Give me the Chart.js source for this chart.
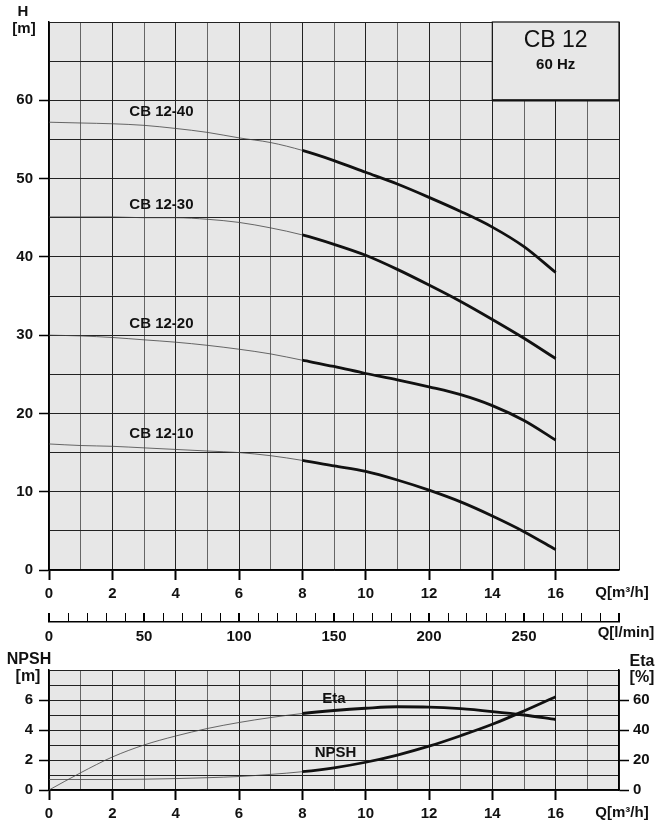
<!DOCTYPE html>
<html>
<head>
<meta charset="utf-8">
<script src="https://cdn.jsdelivr.net/npm/chart.js@4.4.1/dist/chart.umd.min.js"></script>
<style>
  body { margin: 0; background: #fff; }
  #wrap { position: relative; width: 663px; height: 831px; }
  canvas { position: absolute; left: 0; }
</style>
</head>
<body>
<div id="wrap">
  <canvas id="chartH" width="663" height="600" style="top:0"></canvas>
  <canvas id="chartL" width="663" height="45" style="top:600px"></canvas>
  <canvas id="chartN" width="663" height="186" style="top:645px"></canvas>
</div>
<script>
// flow points, m3/h
const qPoints = [0, 1, 2, 3, 4, 5, 6, 7, 8, 9, 10, 11, 12, 13, 14, 15, 16];
// head curves, m
const h40 = [57.2, 57.1, 57.0, 56.8, 56.4, 55.9, 55.2, 54.6, 53.6, 52.3, 50.8, 49.3, 47.6, 45.8, 43.8, 41.3, 38.0];
const h30 = [45.1, 45.1, 45.1, 45.0, 45.0, 44.8, 44.4, 43.7, 42.8, 41.6, 40.2, 38.4, 36.4, 34.3, 32.0, 29.6, 27.0];
const h20 = [30.0, 29.9, 29.7, 29.4, 29.1, 28.7, 28.2, 27.6, 26.8, 26.0, 25.1, 24.3, 23.4, 22.4, 21.0, 19.1, 16.6];
const h10 = [16.1, 15.9, 15.8, 15.6, 15.4, 15.2, 15.0, 14.6, 14.0, 13.3, 12.6, 11.5, 10.2, 8.7, 6.9, 4.9, 2.6];
const curveNames = ['CB 12-40', 'CB 12-30', 'CB 12-20', 'CB 12-10'];
// NPSH in m, Eta in %
const npsh = [0.7, 0.7, 0.7, 0.72, 0.76, 0.82, 0.9, 1.04, 1.22, 1.48, 1.85, 2.33, 2.92, 3.62, 4.38, 5.27, 6.22];
const eta = [0, 11.5, 22, 30, 36, 41, 45, 48.3, 51, 53, 54.5, 55.5, 55.3, 54.2, 52.3, 50, 47];
// tick labels
const qTicks = [0, 2, 4, 6, 8, 10, 12, 14, 16];
const hTicks = [0, 10, 20, 30, 40, 50, 60];
const lminTicks = [0, 50, 100, 150, 200, 250];
const npshTicks = [0, 2, 4, 6];
const etaTicks = [0, 20, 40, 60];

const FONT = '"Liberation Sans", Arial, sans-serif';
const PLOT_BG = '#e7e7e7';
const THICK_FROM = 8;

function pts(ys) {
    return qPoints.map((q, i) => ({ x: q, y: ys[i] }));
}

function curve(ys, axis) {
    return {
        data: pts(ys),
        yAxisID: axis || 'y',
        borderColor: '#111',
        borderWidth: 2.8,
        pointRadius: 0,
        cubicInterpolationMode: 'monotone',
        segment: {
            borderWidth: ctx => ctx.p0.parsed.x >= THICK_FROM ? 2.8 : 0.8,
            borderColor: ctx => ctx.p0.parsed.x >= THICK_FROM ? '#111' : '#444'
        }
    };
}

const tickFont = { family: FONT, size: 15, weight: 'bold' };

const plotBg = {
    id: 'plotBg',
    beforeDraw(chart) {
        const a = chart.chartArea;
        const ctx = chart.ctx;
        ctx.save();
        ctx.fillStyle = PLOT_BG;
        ctx.fillRect(a.left, a.top, a.right - a.left, a.bottom - a.top);
        ctx.restore();
    }
};

function text(ctx, str, x, y, size, weight) {
    ctx.font = (weight || 'bold') + ' ' + size + 'px ' + FONT;
    ctx.fillStyle = '#111';
    ctx.textAlign = 'center';
    ctx.textBaseline = 'middle';
    ctx.fillText(str, x, y);
}

function qAxis(height) {
    return {
        type: 'linear', min: 0, max: 18,
        afterFit: s => { s.height = height; },
        ticks: {
            stepSize: 1, autoSkip: false, maxRotation: 0, font: tickFont, color: '#111', padding: 5,
            callback: v => qTicks.includes(v) ? String(v) : ''
        },
        grid: {
            color: c => c.tick.value % 2 === 0 ? '#222' : '#666',
            lineWidth: 1,
            tickLength: 10,
            tickWidth: 2,
            tickColor: c => qTicks.includes(c.tick.value) ? '#000' : 'rgba(0,0,0,0)'
        },
        border: { display: true, color: '#000', width: 1.5 }
    };
}

// ---------- head chart ----------
const headLabels = {
    id: 'headLabels',
    beforeDatasetsDraw(chart) {
        const { ctx, scales: { x, y } } = chart;
        const x0 = x.getPixelForValue(14), x1 = x.getPixelForValue(18);
        const y0 = y.getPixelForValue(70), y1 = y.getPixelForValue(60);
        ctx.save();
        ctx.fillStyle = PLOT_BG;
        ctx.fillRect(x0, y0, x1 - x0, y1 - y0);
        ctx.strokeStyle = '#111';
        ctx.lineWidth = 1.2;
        ctx.strokeRect(x0, y0, x1 - x0, y1 - y0);
        ctx.lineWidth = 2.2;
        ctx.beginPath();
        ctx.moveTo(x0, y1);
        ctx.lineTo(x1, y1);
        ctx.stroke();
        text(ctx, 'CB 12', (x0 + x1) / 2, y0 + 19, 23, 'normal');
        text(ctx, '60 Hz', (x0 + x1) / 2, y0 + 43, 15);
        ctx.restore();
    },
    afterDraw(chart) {
        const { ctx, scales: { x, y } } = chart;
        const labelH = [58.5, 46.6, 31.5, 17.4];
        ctx.save();
        curveNames.forEach((n, i) => text(ctx, n, x.getPixelForValue(3.55), y.getPixelForValue(labelH[i]), 15));
        text(ctx, 'H', 23, 12, 15);
        text(ctx, '[m]', 24, 29, 15);
        text(ctx, 'Q[m³/h]', 622, 593, 15);
        ctx.restore();
    }
};

new Chart(document.getElementById('chartH'), {
    type: 'line',
    data: { datasets: [curve(h40), curve(h30), curve(h20), curve(h10)] },
    options: {
        responsive: false,
        animation: false,
        layout: { padding: { top: 22, right: 44, left: 0, bottom: 0 } },
        plugins: { legend: { display: false }, tooltip: { enabled: false } },
        scales: {
            x: qAxis(30),
            y: {
                type: 'linear', min: 0, max: 70,
                afterFit: s => { s.width = 49; },
                ticks: {
                    stepSize: 5, autoSkip: false, font: tickFont, color: '#111', padding: 6,
                    callback: v => hTicks.includes(v) ? String(v) : ''
                },
                grid: {
                    color: '#222', lineWidth: 1, tickLength: 10, tickWidth: 1.5,
                    tickColor: c => hTicks.includes(c.tick.value) ? '#000' : 'rgba(0,0,0,0)'
                },
                border: { display: true, color: '#000', width: 1.5 }
            }
        }
    },
    plugins: [plotBg, headLabels]
});

// ---------- l/min axis ----------
new Chart(document.getElementById('chartL'), {
    type: 'line',
    data: { datasets: [] },
    options: {
        responsive: false,
        animation: false,
        layout: { padding: { top: 13, right: 44, left: 49, bottom: 0 } },
        plugins: { legend: { display: false }, tooltip: { enabled: false } },
        scales: {
            x: {
                type: 'linear', min: 0, max: 300,
                afterFit: s => { s.height = 23; },
                ticks: {
                    stepSize: 10, autoSkip: false, maxRotation: 0, font: tickFont, color: '#111', padding: 6,
                    callback: v => lminTicks.includes(v) ? String(v) : ''
                },
                grid: {
                    drawTicks: false,
                    color: '#000',
                    lineWidth: c => c.tick.value % 50 === 0 ? 2 : 1
                },
                border: { display: true, color: '#000', width: 1.5 }
            },
            y: { display: false, min: 0, max: 1 }
        }
    },
    plugins: [{
        id: 'lminTitle',
        afterDraw(chart) {
            text(chart.ctx, 'Q[l/min]', 626, 33, 15);
        }
    }]
});

// ---------- NPSH / Eta chart ----------
const npshLabels = {
    id: 'npshLabels',
    afterDraw(chart) {
        const { ctx, scales: { x, y } } = chart;
        ctx.save();
        text(ctx, 'Eta', x.getPixelForValue(9), y.getPixelForValue(6.1), 15);
        text(ctx, 'NPSH', x.getPixelForValue(9.05), y.getPixelForValue(2.45), 15);
        text(ctx, 'NPSH', 29, 15, 16);
        text(ctx, '[m]', 28, 32, 16);
        text(ctx, 'Eta', 642, 17, 16);
        text(ctx, '[%]', 642, 33, 16);
        text(ctx, 'Q[m³/h]', 622, 168, 15);
        ctx.restore();
    }
};

new Chart(document.getElementById('chartN'), {
    type: 'line',
    data: { datasets: [curve(npsh, 'y'), curve(eta, 'y2')] },
    options: {
        responsive: false,
        animation: false,
        layout: { padding: { top: 25, right: 0, left: 0, bottom: 0 } },
        plugins: { legend: { display: false }, tooltip: { enabled: false } },
        scales: {
            x: qAxis(41),
            y: {
                type: 'linear', position: 'left', min: 0, max: 8,
                afterFit: s => { s.width = 49; },
                ticks: {
                    stepSize: 1, autoSkip: false, font: tickFont, color: '#111', padding: 6,
                    callback: v => npshTicks.includes(v) ? String(v) : ''
                },
                grid: {
                    color: '#222', lineWidth: 1, tickLength: 10, tickWidth: 1.5,
                    tickColor: c => npshTicks.includes(c.tick.value) ? '#000' : 'rgba(0,0,0,0)'
                },
                border: { display: true, color: '#000', width: 1.5 }
            },
            y2: {
                type: 'linear', position: 'right', min: 0, max: 80,
                afterFit: s => { s.width = 44; },
                ticks: {
                    stepSize: 10, autoSkip: false, font: tickFont, color: '#111', padding: 4,
                    callback: v => etaTicks.includes(v) ? String(v) : ''
                },
                grid: {
                    drawOnChartArea: false, tickLength: 10, tickWidth: 1.5,
                    tickColor: c => etaTicks.includes(c.tick.value) ? '#000' : 'rgba(0,0,0,0)'
                },
                border: { display: true, color: '#000', width: 1.5 }
            }
        }
    },
    plugins: [plotBg, npshLabels]
});
</script>
</body>
</html>
